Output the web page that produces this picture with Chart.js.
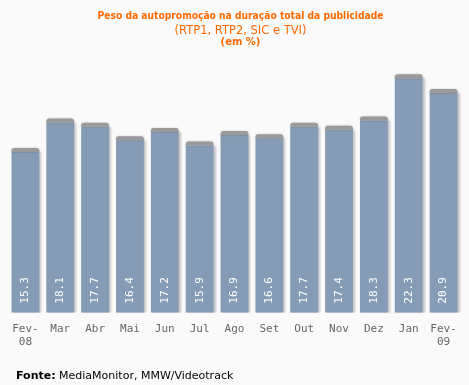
<!DOCTYPE html>
<html>
<head>
<meta charset="utf-8">
<script src="https://cdn.jsdelivr.net/npm/chart.js@4/dist/chart.umd.min.js"></script>
<style>
  html, body { margin:0; padding:0; background:#fafafa; }
  #wrap { position:relative; width:469px; height:385px; overflow:hidden; }
  canvas { position:absolute; left:0; top:0; }
  .t { position:absolute; left:6px; width:469px; text-align:center; color:#ff6a00; font-family:"DejaVu Sans", Verdana, sans-serif; }
  #t1 { top:10px; font-size:10.2px; font-weight:bold; font-family:"DejaVu Sans Condensed","DejaVu Sans",sans-serif; }
  #t2 { top:23px; font-size:11.5px; }
  #t3 { top:36px; font-size:10px; font-weight:bold; }
  #src { position:absolute; left:16px; top:369px; font-family:"DejaVu Sans", Verdana, sans-serif; font-size:11px; color:#000; }
</style>
</head>
<body>
<div id="wrap">
  <canvas id="c" width="469" height="385"></canvas>
  <div class="t" id="t1">Peso da autopromoção na duração total da publicidade</div>
  <div class="t" id="t2">(RTP1, RTP2, SIC e TVI)</div>
  <div class="t" id="t3">(em %)</div>
  <div id="src"><b>Fonte:</b> MediaMonitor, MMW/Videotrack</div>
</div>
<script>
const categories = [["Fev-","08"],"Mar","Abr","Mai","Jun","Jul","Ago","Set","Out","Nov","Dez","Jan",["Fev-","09"]];
const values = [15.3,18.1,17.7,16.4,17.2,15.9,16.9,16.6,17.7,17.4,18.3,22.3,20.9];

const barFx = {
  id: 'barFx',
  beforeDatasetsDraw(chart) {
    const ctx = chart.ctx;
    ctx.save();
    ctx.shadowColor = 'rgba(0,0,0,0.22)';
    ctx.shadowOffsetX = 2;
    ctx.shadowOffsetY = 0;
    ctx.shadowBlur = 2;
  },
  afterDatasetsDraw(chart) {
    const ctx = chart.ctx;
    ctx.restore();
    const meta = chart.getDatasetMeta(0);
    meta.data.forEach((bar, i) => {
      const w = bar.width;
      const x0 = bar.x - w / 2;
      ctx.save();
      ctx.fillStyle = '#9a9a9a';
      ctx.shadowColor = 'rgba(0,0,0,0.25)';
      ctx.shadowBlur = 2;
      ctx.beginPath();
      ctx.roundRect(x0, bar.y - 4, w, 4, [3, 3, 0, 0]);
      ctx.fill();
      ctx.restore();
      ctx.save();
      ctx.translate(bar.x, bar.base - 9);
      ctx.rotate(-Math.PI / 2);
      ctx.fillStyle = '#ffffff';
      ctx.font = '11px "DejaVu Sans Mono", monospace';
      ctx.textAlign = 'left';
      ctx.textBaseline = 'middle';
      ctx.fillText(values[i].toFixed(1), 0, 0);
      ctx.restore();
    });
  }
};

new Chart(document.getElementById('c'), {
  type: 'bar',
  data: {
    labels: categories,
    datasets: [{
      data: values,
      backgroundColor: '#869bb5',
      borderWidth: 0,
      categoryPercentage: 1,
      barPercentage: 0.8
    }]
  },
  options: {
    responsive: false,
    animation: false,
    events: [],
    layout: { padding: { left: 8, right: 8, top: 50, bottom: 35 } },
    plugins: { legend: { display: false }, tooltip: { enabled: false } },
    scales: {
      y: { display: false, min: 0, max: 25 },
      x: {
        grid: { display: false },
        border: { display: false },
        ticks: {
          color: '#666',
          font: { family: '"DejaVu Sans Mono", monospace', size: 11, lineHeight: 1.15 },
          padding: 2,
          maxRotation: 0,
          autoSkip: false
        }
      }
    }
  },
  plugins: [barFx]
});
</script>
</body>
</html>
